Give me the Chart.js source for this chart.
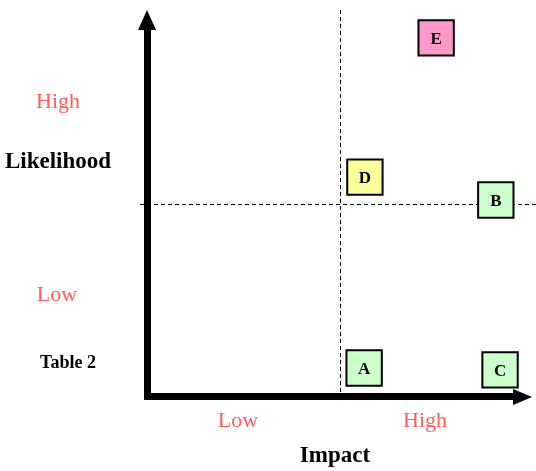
<!DOCTYPE html>
<html>
<head>
<meta charset="utf-8">
<script src="https://cdn.jsdelivr.net/npm/chart.js@4"></script>
<style>
  html, body { margin: 0; padding: 0; background: #fff; }
  #wrap { width: 536px; height: 471px; position: relative; }
</style>
</head>
<body>
<div id="wrap"><canvas id="risk-chart"></canvas></div>
<script>
// Risk items: impact (x) and likelihood (y) on a 0-10 scale
const riskLabels = ['A', 'B', 'C', 'D', 'E'];
const impactValues = [5.64, 9.06, 9.17, 5.66, 7.51];
const likelihoodValues = [0.75, 5.09, 0.70, 5.68, 9.28];
const riskColors = ['#ccffcc', '#ccffcc', '#ccffcc', '#ffff99', '#ff99cc'];

// Quadrant divider
const midImpact = 5;
const midLikelihood = 5;

const axisLabels = { x: 'Impact', y: 'Likelihood' };
const xTickLabels = ['Low', 'High'];
const yTickLabels = ['Low', 'High'];

const RED = '#ff5b5b';
const SERIF = '"Liberation Serif", "Times New Roman", serif';

const matrixPlugin = {
    id: 'matrix',
    beforeDatasetsDraw(chart) {
        const ctx = chart.ctx;
        const x = chart.scales.x;
        const y = chart.scales.y;
        ctx.save();
        // dashed quadrant lines
        ctx.strokeStyle = '#000';
        ctx.lineWidth = 1;
        ctx.setLineDash([4, 3]);
        const mx = Math.round(x.getPixelForValue(midImpact)) + 0.5;
        const my = Math.round(y.getPixelForValue(midLikelihood)) + 0.5;
        ctx.beginPath();
        ctx.moveTo(mx, y.getPixelForValue(10));
        ctx.lineTo(mx, y.getPixelForValue(0));
        ctx.moveTo(x.getPixelForValue(0) - 7, my);
        ctx.lineTo(chart.width, my);
        ctx.stroke();
        ctx.restore();
    },
    afterDatasetsDraw(chart) {
        const ctx = chart.ctx;
        const x = chart.scales.x;
        const y = chart.scales.y;
        const x0 = x.getPixelForValue(0);
        const y0 = y.getPixelForValue(0);
        const xEnd = x.getPixelForValue(10);
        const yEnd = y.getPixelForValue(10);

        ctx.save();
        // letters in boxes
        ctx.fillStyle = '#000';
        ctx.font = 'bold 17px ' + SERIF;
        ctx.textAlign = 'center';
        ctx.textBaseline = 'alphabetic';
        riskLabels.forEach((lbl, i) => {
            ctx.fillText(lbl, x.getPixelForValue(impactValues[i]), y.getPixelForValue(likelihoodValues[i]) + 6);
        });

        // axis arrows
        ctx.fillStyle = '#000';
        ctx.fillRect(x0 - 3, yEnd + 20, 7, y0 - yEnd - 17);
        ctx.fillRect(x0 - 3, y0 - 4, xEnd - x0 - 16, 7);
        ctx.beginPath();
        ctx.moveTo(x0 - 9, yEnd + 20);
        ctx.lineTo(x0 + 9, yEnd + 20);
        ctx.lineTo(x0, yEnd);
        ctx.closePath();
        ctx.fill();
        ctx.beginPath();
        ctx.moveTo(xEnd - 19, y0 - 8);
        ctx.lineTo(xEnd - 19, y0 + 8);
        ctx.lineTo(xEnd, y0);
        ctx.closePath();
        ctx.fill();

        // category labels
        ctx.fillStyle = RED;
        ctx.font = '22px ' + SERIF;
        ctx.fillText(yTickLabels[1], 58, 108);
        ctx.fillText(yTickLabels[0], 57, 301);
        ctx.fillText(xTickLabels[0], 238, 427);
        ctx.fillText(xTickLabels[1], 425, 427);

        // axis titles
        ctx.fillStyle = '#000';
        ctx.font = 'bold 23px ' + SERIF;
        ctx.fillText(axisLabels.y, 58, 168);
        ctx.fillText(axisLabels.x, 335, 462);
        ctx.font = 'bold 18px ' + SERIF;
        ctx.fillText('Table 2', 68, 368);
        ctx.restore();
    }
};

new Chart(document.getElementById('risk-chart'), {
    type: 'scatter',
    data: {
        datasets: [{
            data: impactValues.map((v, i) => ({ x: v, y: likelihoodValues[i] })),
            pointStyle: 'rect',
            pointRadius: 25,
            pointHoverRadius: 25,
            backgroundColor: riskColors,
            borderColor: '#000',
            borderWidth: 2,
            clip: false
        }]
    },
    options: {
        responsive: true,
        maintainAspectRatio: false,
        animation: false,
        events: [],
        layout: { autoPadding: false, padding: { left: 147, right: 4, top: 10, bottom: 74 } },
        scales: {
            x: { type: 'linear', min: 0, max: 10, display: false },
            y: { type: 'linear', min: 0, max: 10, display: false }
        },
        plugins: {
            legend: { display: false },
            tooltip: { enabled: false }
        }
    },
    plugins: [matrixPlugin]
});
</script>
</body>
</html>
